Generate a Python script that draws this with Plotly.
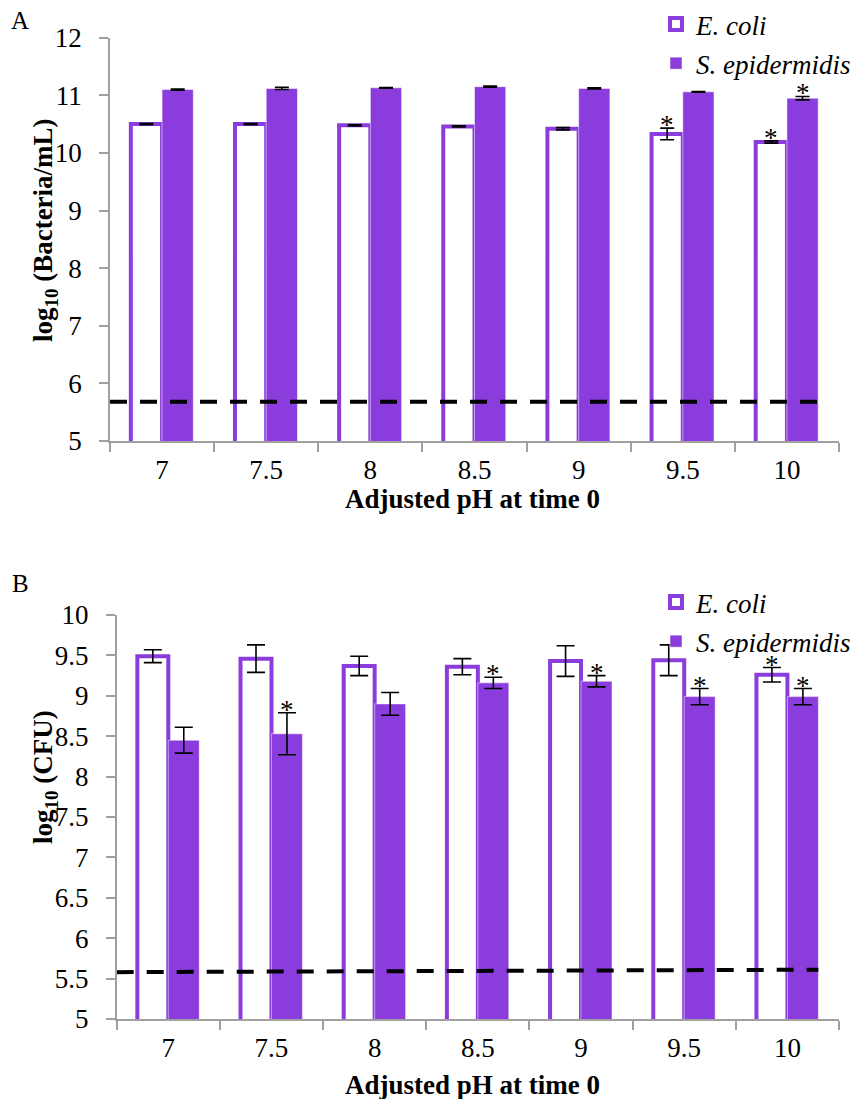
import plotly.graph_objects as go

# ---------------- data ----------------
ph_labels = ["7", "7.5", "8", "8.5", "9", "9.5", "10"]

# Panel A: log10 (Bacteria/mL)
a_ecoli = [10.50, 10.50, 10.48, 10.46, 10.42, 10.33, 10.19]
a_ecoli_err = [0.01, 0.01, 0.01, 0.01, 0.02, 0.10, 0.02]
a_sepi = [11.10, 11.12, 11.13, 11.15, 11.12, 11.06, 10.95]
a_sepi_err = [0.01, 0.02, 0.005, 0.01, 0.01, 0.005, 0.03]
a_star_ecoli = [False, False, False, False, False, True, True]
a_star_sepi = [False, False, False, False, False, False, True]
a_detect = [5.68, 5.68]

# Panel B: log10 (CFU)
b_ecoli = [9.49, 9.46, 9.37, 9.36, 9.43, 9.44, 9.26]
b_ecoli_err = [0.08, 0.17, 0.12, 0.10, 0.19, 0.19, 0.09]
b_sepi = [8.45, 8.53, 8.90, 9.16, 9.18, 8.99, 8.99]
b_sepi_err = [0.16, 0.26, 0.14, 0.07, 0.07, 0.10, 0.10]
b_star_ecoli = [False, False, False, False, False, False, True]
b_star_sepi = [False, True, False, True, True, True, True]
b_detect = [5.58, 5.61]

# ---------------- style ----------------
PURPLE = "#8A3DDC"
FONT = "Liberation Serif, Times New Roman, serif"
AXIS_GRAY = "#A0A0A0"
W, H = 859, 1099
BARGAP = 0.4
HALF = (1 - BARGAP) / 4  # center offset of each bar within a group
FS = 27

fig = go.Figure()


def add_panel(xa, ya, xo, ecoli, ecoli_err, sepi, sepi_err, detect, legend, cap):
    fig.add_trace(go.Bar(
        x=ph_labels, y=ecoli, name="<i>E. coli</i>",
        marker=dict(color="white", line=dict(color=PURPLE, width=4)),
        error_y=dict(type="data", array=ecoli_err, color="black", thickness=1.6, width=cap),
        xaxis=xa, yaxis=ya, legend=legend, legendgroup=legend + "e"))
    fig.add_trace(go.Bar(
        x=ph_labels, y=sepi, name="<i>S. epidermidis</i>",
        marker=dict(color=PURPLE, line=dict(color="white", width=0.5)),
        error_y=dict(type="data", array=sepi_err, color="black", thickness=1.6, width=cap),
        xaxis=xa, yaxis=ya, legend=legend, legendgroup=legend + "s"))
    n = len(ph_labels)
    fig.add_trace(go.Scatter(
        x=[-0.5, (n - 1) + 2 * HALF], y=detect, mode="lines",
        line=dict(color="black", width=4, dash="17px,13px"),
        xaxis=xo, yaxis=ya, showlegend=False, hoverinfo="skip"))


add_panel("x", "y", "x3", a_ecoli, a_ecoli_err, a_sepi, a_sepi_err, a_detect, "legend", 7)
add_panel("x2", "y2", "x4", b_ecoli, b_ecoli_err, b_sepi, b_sepi_err, b_detect, "legend2", 9)

annotations = []


def add_stars(xref, yref, vals, errs, flags, sign):
    for i, (v, e, f) in enumerate(zip(vals, errs, flags)):
        if f:
            annotations.append(dict(
                x=i + sign * HALF, y=v + e, xref=xref, yref=yref, text="*",
                showarrow=False, yanchor="middle", yshift=3,
                font=dict(family=FONT, size=27, color="black")))


add_stars("x3", "y", a_ecoli, a_ecoli_err, a_star_ecoli, -1)
add_stars("x3", "y", a_sepi, a_sepi_err, a_star_sepi, 1)
add_stars("x4", "y2", b_ecoli, b_ecoli_err, b_star_ecoli, -1)
add_stars("x4", "y2", b_sepi, b_sepi_err, b_star_sepi, 1)


def px_x(p):
    return p / W


def px_y(p):
    return 1 - p / H


def text_ann(x, y, text, size, angle=0):
    annotations.append(dict(x=px_x(x), y=px_y(y), xref="paper", yref="paper", text=text,
                            textangle=angle, showarrow=False, xanchor="center",
                            yanchor="middle", font=dict(family=FONT, size=size, color="black")))


# panel labels
text_ann(20, 20, "A", 25)
text_ann(20, 583, "B", 25)
# y titles
text_ann(45, 230, "<b>log<sub>10</sub> (Bacteria/mL)</b>", FS, -90)
text_ann(45, 777, "<b>log<sub>10</sub> (CFU)</b>", FS, -90)
# x titles
text_ann(472, 499, "<b>Adjusted pH at time 0</b>", FS)
text_ann(472, 1085, "<b>Adjusted pH at time 0</b>", FS)

tickfont = dict(family=FONT, size=FS, color="black")


def xaxis(domain, anchor):
    return dict(domain=domain, anchor=anchor, type="category", tickson="boundaries",
                ticks="outside", ticklen=9, tickcolor=AXIS_GRAY, tickwidth=1.5,
                showline=True, linecolor=AXIS_GRAY, linewidth=1.5, showgrid=False,
                zeroline=False, tickfont=tickfont, ticklabelstandoff=4, automargin=False)


def yaxis(domain, anchor, rng, dtick):
    return dict(domain=domain, anchor=anchor, range=rng, dtick=dtick, tick0=5,
                ticks="outside", ticklen=9, tickcolor=AXIS_GRAY, tickwidth=1.5,
                showline=True, linecolor=AXIS_GRAY, linewidth=1.5, showgrid=False,
                zeroline=False, tickfont=tickfont, ticklabelstandoff=12, automargin=False)


legend_common = dict(xanchor="left", yanchor="top", bgcolor="rgba(0,0,0,0)",
                     font=dict(family=FONT, size=FS, color="black"),
                     tracegroupgap=1, itemwidth=30, traceorder="grouped")

fig.update_layout(
    template="none",
    width=W, height=H, margin=dict(l=0, r=0, t=0, b=0, autoexpand=False),
    paper_bgcolor="white", plot_bgcolor="white",
    barmode="group", bargap=BARGAP, bargroupgap=0,
    xaxis=xaxis([px_x(110), px_x(839)], "y"),
    yaxis=yaxis([px_y(441), px_y(37.7)], "x", [5, 12], 1),
    xaxis2=xaxis([px_x(116.7), px_x(839)], "y2"),
    yaxis2=yaxis([px_y(1019), px_y(615)], "x2", [5, 10], 0.5),
    xaxis3=dict(overlaying="x", anchor="y", range=[-0.5, 6.5], visible=False),
    xaxis4=dict(overlaying="x2", anchor="y2", range=[-0.5, 6.5], visible=False),
    legend=dict(x=px_x(656), y=1.0, **legend_common),
    legend2=dict(x=px_x(656), y=px_y(578), **legend_common),
    annotations=annotations,
    showlegend=True,
)

fig.write_html("out.html")
